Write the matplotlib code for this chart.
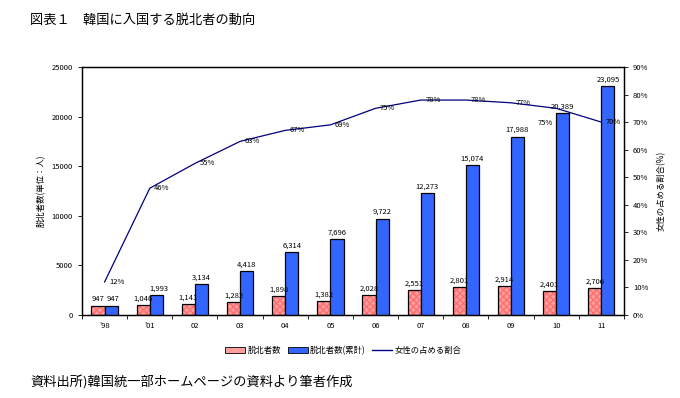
import matplotlib.pyplot as plt
import numpy as np
from matplotlib.lines import Line2D
from matplotlib.patches import Patch

plt.rcParams['font.family'] = ['Noto Sans CJK JP', 'DejaVu Sans']

years = ["'98", "'01", "02", "03", "04", "05", "06", "07", "08", "09", "10", "11"]
annual = [947, 1046, 1141, 1282, 1898, 1382, 2028, 2551, 2801, 2914, 2401, 2706]
cumulative = [947, 1993, 3134, 4418, 6314, 7696, 9722, 12273, 15074, 17988, 20389, 23095]
female_ratio = [12, 46, 55, 63, 67, 69, 75, 78, 78, 77, 75, 70]

fig = plt.figure(figsize=(6.8, 3.98), dpi=100)
ax = fig.add_axes([0.1206, 0.2085, 0.797, 0.6232])
ax2 = ax.twinx()

x = np.arange(len(years))
w = 0.29
pink = '#FF9E9E'
blue = '#3366FF'
navy = '#000080'

# annual bars: dotted fill, then black outline
ax.bar(x - w / 2, annual, w, color=pink, edgecolor='#FF6F6F', hatch='xxxxx', lw=0, zorder=2)
ax.bar(x - w / 2, annual, w, fill=False, edgecolor='black', lw=0.9, zorder=3)
ax.bar(x + w / 2, cumulative, w, color=blue, edgecolor='black', lw=0.9, zorder=3)

fs = 5.5
for i in range(len(years)):
    ax.text(x[i] - w / 2, annual[i] + 250, f'{annual[i]:,}', ha='center', va='bottom', fontsize=fs)
    ax.text(x[i] + w / 2 + (0.05 if i < 2 else 0), cumulative[i] + 250, f'{cumulative[i]:,}',
            ha='center', va='bottom', fontsize=fs)

ax2.plot(x, [r / 100 for r in female_ratio], color=navy, lw=0.9, zorder=4)
for i, r in enumerate(female_ratio):
    dx, dy = (0.27, 0) if i != 10 else (-0.25, -0.055)
    ax2.text(x[i] + dx, r / 100 + dy, f'{r}%', ha='center', va='center', fontsize=fs, zorder=5)

ax.set_xlim(-0.5, len(years) - 0.5)
ax.set_ylim(0, 25000)
ax.set_yticks(range(0, 25001, 5000))
ax2.set_ylim(0, 0.9)
ax2.set_yticks(np.arange(0, 0.91, 0.1))
ax2.set_yticklabels([f'{int(round(v * 100))}%' for v in np.arange(0, 0.91, 0.1)])

ax.set_xticks(np.arange(-0.5, len(years), 1))
ax.set_xticklabels([])
ax.set_xticks(x, minor=True)
ax.set_xticklabels(years, minor=True)
ax.tick_params(axis='x', which='major', length=3, width=0.6)
ax.tick_params(axis='x', which='minor', length=0, labelsize=fs, pad=5)
ax.tick_params(axis='y', length=3, width=0.6, labelsize=fs)
ax2.tick_params(axis='y', length=3, width=0.6, labelsize=fs)

for a in (ax, ax2):
    for s in a.spines.values():
        s.set_linewidth(0.9)

ax.set_ylabel('脱北者数(単位：人)', fontsize=fs + 0.5, labelpad=4)
ax2.set_ylabel('女性の占める割合(%)', fontsize=fs + 0.5, rotation=90, labelpad=6)

handles = [Patch(facecolor=pink, edgecolor='black', lw=0.6),
           Patch(facecolor=blue, edgecolor='black', lw=0.6),
           Line2D([], [], color=navy, lw=1)]
fig.legend(handles, ['脱北者数', '脱北者数(累計)', '女性の占める割合'], loc='center',
           bbox_to_anchor=(0.505, 0.12), ncol=3, frameon=False, fontsize=fs + 0.5,
           handlelength=2.4, handleheight=0.7, columnspacing=0.8, handletextpad=0.3)

fig.text(0.044, 0.95, '図表１　韓国に入国する脱北者の動向', fontsize=9.5, va='center')
fig.text(0.044, 0.038, '資料出所)韓国統一部ホームページの資料より筆者作成', fontsize=9.5, va='center')

fig.savefig('out.png', dpi=100)
